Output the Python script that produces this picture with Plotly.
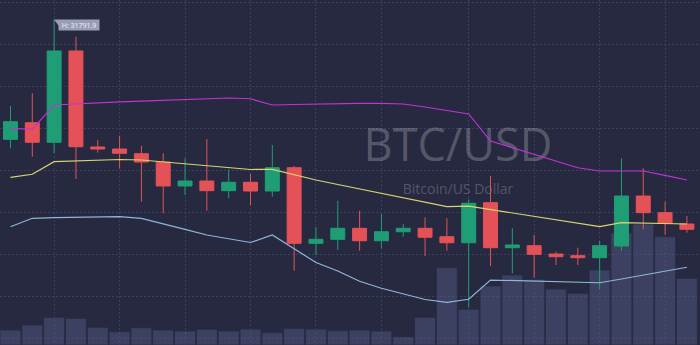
import plotly.graph_objects as go

# ---------------- data ----------------
idx = list(range(32))

opens  = [30365, 30563, 30330, 31417, 30274, 30250, 30194, 30095, 29810, 29869,
          29754, 29854, 29750, 30027, 29127, 29175, 29306, 29158, 29265, 29306,
          29206, 29134, 29611, 29075, 29099, 29000, 28980, 28956, 29095, 29690,
          29492, 29357]
highs  = [30762, 30913, 31791.9, 31587, 30357, 30408, 30289, 30199, 30139, 30369,
          30008, 29952, 30298, 30048, 29318, 29634, 29516, 29476, 29357, 29437,
          29425, 29651, 29929, 29306, 29226, 29027, 29075, 29155, 30139, 30020,
          29623, 29452]
lows   = [30258, 30158, 30199, 29893, 30206, 30020, 29623, 29485, 29702, 29516,
          29663, 29580, 29682, 28801, 28988, 29048, 29039, 29068, 29206, 28976,
          29039, 28365, 28857, 28770, 28718, 28869, 28869, 28580, 29039, 29294,
          29226, 29254]
closes = [30575, 30330, 31417, 30277, 30250, 30199, 30095, 29810, 29869, 29754,
          29854, 29750, 30027, 29127, 29175, 29306, 29158, 29265, 29306, 29199,
          29134, 29604, 29075, 29107, 28996, 28968, 28956, 29099, 29690, 29492,
          29365, 29294]

bb_upper = [30496, 30485, 30774, 30788, 30798, 30810, 30819, 30830, 30839, 30849,
            30857, 30848, 30774, 30780, 30786, 30789, 30792, 30792, 30786, 30750,
            30708, 30667, 30345, 30267, 30188, 30108, 30027, 29988, 29992, 29988,
            29935, 29881]
bb_mid   = [29913, 29949, 30099, 30107, 30115, 30125, 30119, 30095, 30071, 30048,
            30024, 30006, 30008, 29940, 29881, 29827, 29774, 29720, 29667, 29613,
            29565, 29571, 29531, 29489, 29449, 29407, 29367, 29325, 29373, 29369,
            29363, 29357]
bb_lower = [29325, 29425, 29434, 29440, 29444, 29444, 29425, 29363, 29294, 29226,
            29184, 29137, 29226, 29060, 28899, 28798, 28675, 28592, 28524, 28458,
            28425, 28461, 28690, 28685, 28679, 28673, 28667, 28658, 28702, 28746,
            28794, 28842]

volume = [750, 1000, 1385, 1335, 885, 665, 865, 750, 700, 785,
          700, 800, 615, 835, 800, 715, 750, 700, 415, 1385,
          3865, 1785, 2950, 3500, 3285, 2800, 2585, 3750, 5600, 6050,
          5415, 3335]

title_text = "BTC/USD"
subtitle_text = "Bitcoin/US Dollar"
high_label = "H: 31791.9"

# ---------------- style ----------------
W, H = 700, 345
BG = "#262940"
UP = "#1f9e75"
DOWN = "#e45258"
GRID = "#3b4060"
VOL_COLOR = "rgba(88,96,140,0.45)"
VOL_LINE = "rgba(40,44,68,0.9)"
C_UPPER = "#c133d1"
C_MID = "#d8d46f"
C_LOWER = "#8cb8d8"

X_RANGE = [-0.48, 31.6]
P_RANGE = [27916.67, 32023.81]
V_RANGE = [0, 17250]


def px_to_x(px):
    return X_RANGE[0] + px / W * (X_RANGE[1] - X_RANGE[0])


def px_to_v(py):
    return V_RANGE[1] - py / H * (V_RANGE[1] - V_RANGE[0])


fig = go.Figure()

# volume (primary axis -> drawn beneath)
fig.add_trace(go.Bar(
    x=idx, y=volume, xaxis="x", yaxis="y",
    marker=dict(color=VOL_COLOR, line=dict(color=VOL_LINE, width=1)),
    hoverinfo="skip",
))

# watermark texts (below candles)
fig.add_trace(go.Scatter(
    x=[px_to_x(458), px_to_x(458)],
    y=[px_to_v(149.5), px_to_v(190)],
    mode="text",
    text=[title_text, subtitle_text],
    textposition="middle center",
    textfont=dict(family="Open Sans", size=[45, 14],
                  color="rgba(255,255,255,0.22)"),
    hoverinfo="skip",
))

# candles (overlay axis)
fig.add_trace(go.Candlestick(
    x=idx, open=opens, high=highs, low=lows, close=closes,
    xaxis="x", yaxis="y2",
    increasing=dict(line=dict(color=UP, width=1), fillcolor=UP),
    decreasing=dict(line=dict(color=DOWN, width=1), fillcolor=DOWN),
    whiskerwidth=0,
    hoverinfo="skip",
))

for series, col in [(bb_upper, C_UPPER), (bb_mid, C_MID), (bb_lower, C_LOWER)]:
    fig.add_trace(go.Scatter(
        x=idx, y=series, xaxis="x", yaxis="y2", mode="lines",
        line=dict(color=col, width=1.2), hoverinfo="skip",
    ))

hi_i = highs.index(max(highs))

fig.add_annotation(
    x=idx[hi_i], y=highs[hi_i], xref="x", yref="y2",
    text=high_label, showarrow=False,
    xanchor="left", yanchor="top", xshift=4, yshift=0,
    font=dict(family="Open Sans", size=7, color="#f2f2f7"),
    bgcolor="#9a9db8", borderpad=1, width=38, height=8,
)
fig.add_shape(
    type="path", xref="x", yref="y2",
    xsizemode="pixel", ysizemode="pixel",
    xanchor=idx[hi_i], yanchor=highs[hi_i],
    path="M 0,0 L 5,0 L 5,-7 Z",
    fillcolor="#9a9db8", line=dict(width=0),
)

fig.update_layout(
    width=W, height=H,
    margin=dict(l=0, r=0, t=0, b=0),
    paper_bgcolor=BG, plot_bgcolor=BG,
    showlegend=False,
    bargap=0.04,
    boxgap=0.2, boxgroupgap=0.2,
    xaxis=dict(range=X_RANGE, tickvals=[2, 5, 8, 11, 14, 17, 21, 24, 27, 30],
               showticklabels=False, ticks="", showgrid=True,
               gridcolor=GRID, griddash="2px,2px", gridwidth=1,
               zeroline=False, showline=False,
               rangeslider=dict(visible=False)),
    yaxis=dict(range=V_RANGE, tick0=350, dtick=2100,
               showticklabels=False, ticks="", showgrid=True,
               gridcolor=GRID, griddash="2px,2px", gridwidth=1,
               zeroline=False, showline=False),
    yaxis2=dict(range=P_RANGE, overlaying="y", side="right",
                showticklabels=False, ticks="", showgrid=False,
                zeroline=False, showline=False),
)

fig.write_html("out.html")
